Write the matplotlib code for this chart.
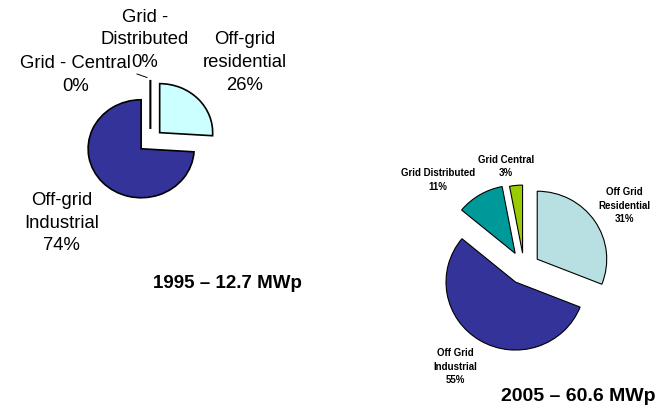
import matplotlib
matplotlib.use("Agg")
import matplotlib.pyplot as plt

plt.rcParams["font.family"] = ["Liberation Sans", "DejaVu Sans"]

W, H = 661, 411

# 1995 installed capacity split
labels_1995 = ["Off-grid\nresidential", "Off-grid\nIndustrial", "Grid - Central", "Grid -\nDistributed"]
share_1995 = [26, 74, 0, 0]
colors_1995 = ["#CCFFFF", "#333399", "#FFFFFF", "#FFFFFF"]
title_1995 = "1995 \u2013 12.7 MWp"

# 2005 installed capacity split
labels_2005 = ["Off Grid\nResidential", "Off Grid\nIndustrial", "Grid Distributed", "Grid Central"]
share_2005 = [31, 55, 11, 3]
colors_2005 = ["#B8E0E2", "#333399", "#009999", "#99CC00"]
title_2005 = "2005 \u2013 60.6 MWp"

PAD = 1.5


def px_axes(fig, cx, cy, rx, ry):
    # axes box centred on a pie, sized in pixels
    w, h = 2 * PAD * rx, 2 * PAD * ry
    ax = fig.add_axes([(cx - w / 2) / W, 1 - (cy + h / 2) / H, w / W, h / H])
    return ax


def finish(ax):
    ax.set_xlim(-PAD, PAD)
    ax.set_ylim(-PAD, PAD)
    ax.set_aspect("auto")
    ax.axis("off")


def main():
    fig = plt.figure(figsize=(W / 100, H / 100), dpi=100)
    fig.patch.set_facecolor("white")

    # text layer in pixel coordinates
    ax0 = fig.add_axes([0, 0, 1, 1])
    ax0.set_xlim(0, W)
    ax0.set_ylim(H, 0)
    ax0.axis("off")

    ax1 = px_axes(fig, 150.4, 140.7, 53, 49)
    ax1.pie(share_1995, radius=1, startangle=90, counterclock=False,
            explode=[0.24, 0.24, 0.24, 0.24], colors=colors_1995,
            wedgeprops=dict(edgecolor="black", linewidth=1.2))
    finish(ax1)

    ax2 = px_axes(fig, 524, 268, 69.5, 68)
    ax2.pie(share_2005, radius=1, startangle=90, counterclock=False,
            explode=[0.23, 0.24, 0.25, 0.22], colors=colors_2005,
            wedgeprops=dict(edgecolor="black", linewidth=0.8))
    finish(ax2)

    # 1995 labels
    pos_1995 = [(245, 62.7), (61.7, 223), (75.5, 75.3), (145, 40)]
    for lab, v, (x, y) in zip(labels_1995, share_1995, pos_1995):
        ax0.text(x, y, f"{lab}\n{v}%", ha="center", va="center",
                 fontsize=13.3, linespacing=1.45)
    ax0.plot([137, 147], [74, 77.5], color="black", linewidth=0.7)
    ax0.text(227, 283, title_1995, ha="center", va="center",
             fontsize=13.5, fontweight="bold")

    # 2005 labels
    pos_2005 = [(624.3, 205.7), (455.7, 366.5), (438.3, 180), (506, 166.3)]
    for lab, v, (x, y) in zip(labels_2005, share_2005, pos_2005):
        ax0.text(x, y, f"{lab}\n{v}%", ha="center", va="center",
                 fontsize=7, fontweight="bold", linespacing=1.45)
    ax0.text(578, 396.7, title_2005, ha="center", va="center",
             fontsize=14, fontweight="bold")

    fig.savefig("out.png", dpi=100)


if __name__ == "__main__":
    main()
